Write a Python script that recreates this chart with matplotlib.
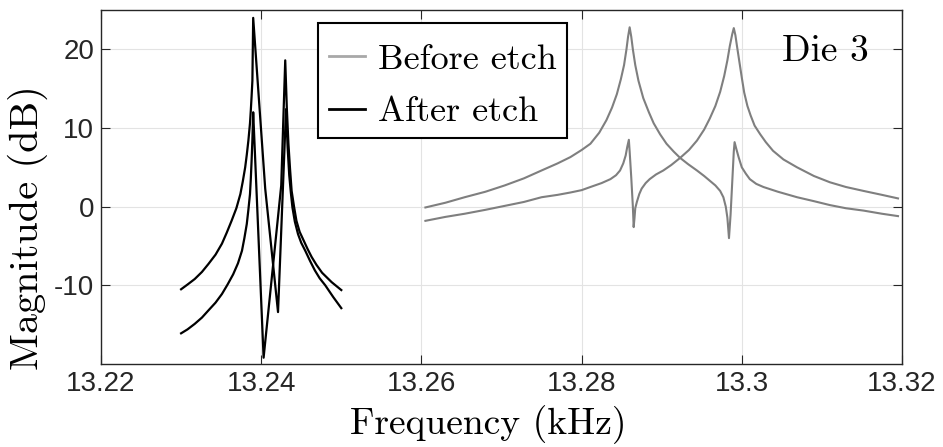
import numpy as np
import matplotlib
matplotlib.use("Agg")
import matplotlib.pyplot as plt
from matplotlib.lines import Line2D
from matplotlib.patches import Rectangle

# --- data (frequency in kHz, magnitude in dB) ---
before_a_f = [13.2605, 13.2630, 13.2654, 13.2680, 13.2704, 13.2728, 13.2750, 13.2770,
              13.2786, 13.2800, 13.2811, 13.2822, 13.2831, 13.2838, 13.2844, 13.2849,
              13.2853, 13.2856, 13.2858, 13.2860, 13.2862, 13.2864, 13.2867, 13.2871,
              13.2877, 13.2884, 13.2890, 13.2898, 13.2906, 13.2915, 13.2923, 13.2933,
              13.2944, 13.2953, 13.2960, 13.2967, 13.2973, 13.2977, 13.2980, 13.2982,
              13.2984, 13.2986, 13.2988, 13.2990, 13.2991, 13.2993, 13.2996, 13.3000,
              13.3005, 13.3010, 13.3018, 13.3027, 13.3045, 13.3069, 13.3090, 13.3110,
              13.3130, 13.3152, 13.3175, 13.3195]
before_a_db = [-0.1, 0.5, 1.2, 1.9, 2.7, 3.6, 4.6, 5.5,
               6.3, 7.2, 8.0, 9.4, 11.0, 12.6, 14.3, 16.2,
               18.0, 20.0, 21.6, 22.8, 21.6, 20.0, 18.0, 16.0,
               13.8, 12.0, 10.6, 9.2, 8.0, 7.0, 6.2, 5.4,
               4.6, 3.9, 3.3, 2.7, 2.0, 1.2, 0.0, -1.4,
               -4.0, -1.0, 3.0, 7.0, 8.2, 7.4, 6.3, 5.0,
               4.2, 3.5, 2.9, 2.5, 1.9, 1.2, 0.7, 0.2,
               -0.2, -0.5, -0.9, -1.2]

before_b_f = [13.2605, 13.2630, 13.2654, 13.2680, 13.2704, 13.2728, 13.2750, 13.2770,
              13.2786, 13.2800, 13.2811, 13.2825, 13.2836, 13.2843, 13.2848, 13.2852,
              13.2855, 13.2857, 13.2859, 13.2860, 13.2862, 13.2864, 13.2865, 13.2866,
              13.2867, 13.2869, 13.2872, 13.2875, 13.2880, 13.2885, 13.2893, 13.2902,
              13.2912, 13.2923, 13.2934, 13.2944, 13.2953, 13.2960, 13.2967, 13.2973,
              13.2978, 13.2982, 13.2985, 13.2988, 13.2990, 13.2992, 13.2994, 13.2997,
              13.3000, 13.3003, 13.3007, 13.3011, 13.3016, 13.3023, 13.3030, 13.3039,
              13.3052, 13.3069, 13.3090, 13.3110, 13.3130, 13.3152, 13.3175, 13.3195]
before_b_db = [-1.8, -1.3, -0.9, -0.4, 0.1, 0.6, 1.2, 1.5,
               1.8, 2.1, 2.5, 3.0, 3.5, 4.0, 4.6, 5.5,
               6.5, 7.6, 8.5, 7.0, 3.7, 0.0, -2.6, -1.5,
               -0.2, 0.6, 1.6, 2.3, 3.0, 3.5, 4.1, 4.6,
               5.3, 6.2, 7.2, 8.4, 9.8, 11.2, 12.8, 14.6,
               16.6, 18.6, 20.4, 21.9, 22.7, 21.8, 20.4, 18.4,
               16.4, 14.5, 12.8, 11.6, 10.3, 9.2, 8.2, 7.1,
               6.0, 5.0, 3.9, 3.1, 2.5, 2.0, 1.5, 1.05]

after_a_f = [13.2300, 13.2308, 13.2317, 13.2326, 13.2334, 13.2343, 13.2351, 13.2357,
             13.2363, 13.2369, 13.2374, 13.2377, 13.2380, 13.2382, 13.2384, 13.2386,
             13.2387, 13.2388, 13.2389, 13.2390, 13.2405, 13.2421, 13.2431, 13.2433,
             13.2435, 13.2437, 13.2439, 13.2442, 13.2446, 13.2450, 13.2455, 13.2461,
             13.2467, 13.2473, 13.2480, 13.2490, 13.2500]
after_a_db = [-10.5, -9.9, -9.2, -8.3, -7.3, -6.1, -4.7, -3.3,
              -1.8, -0.2, 1.6, 3.2, 5.0, 6.6, 8.4, 10.6,
              12.2, 14.0, 16.0, 24.0, 2.3, -13.4, 12.4, 7.5,
              4.0, 1.8, -0.1, -1.9, -3.5, -4.6, -5.6, -6.9,
              -8.1, -9.1, -10.0, -11.5, -12.9]

after_b_f = [13.2300, 13.2308, 13.2317, 13.2326, 13.2334, 13.2343, 13.2351, 13.2358,
             13.2365, 13.2371, 13.2376, 13.2379, 13.2382, 13.2384, 13.2386, 13.2387,
             13.2388, 13.2389, 13.2390, 13.2403, 13.2425, 13.2430, 13.2432, 13.2434,
             13.2436, 13.2438, 13.2441, 13.2444, 13.2448, 13.2453, 13.2458, 13.2463,
             13.2469, 13.2476, 13.2482, 13.2488, 13.2494, 13.2500]
after_b_db = [-16.1, -15.6, -14.9, -14.1, -13.2, -12.2, -11.1, -9.9,
              -8.6, -7.2, -5.6, -4.0, -2.2, -0.4, 1.6, 3.5,
              5.8, 8.5, 12.0, -19.2, 2.7, 18.6, 12.5, 8.0,
              4.8, 2.0, 0.0, -1.8, -3.2, -4.3, -5.4, -6.4,
              -7.4, -8.4, -9.0, -9.6, -10.1, -10.6]

x_ticks = [13.22, 13.24, 13.26, 13.28, 13.30, 13.32]
x_tick_labels = ['13.22', '13.24', '13.26', '13.28', '13.3', '13.32']
y_ticks = [-10, 0, 10, 20]
y_tick_labels = ['-10', '0', '10', '20']

legend_labels = ['Before etch', 'After etch']
note_text = 'Die 3'

# --- style ---
GREY = '#7f7f7f'
GREY_LEG = '#a8a8a8'
BLACK = '#000000'
AX_COL = '#262626'
SERIF = 'cmr10'
W, H = 943, 447

plt.rcParams['axes.unicode_minus'] = False

fig = plt.figure(figsize=(W / 100, H / 100), dpi=100)
ax = fig.add_axes([101 / W, 83 / H, 801 / W, 354 / H])

ax.plot(before_a_f, before_a_db, color=GREY, lw=1.5)
ax.plot(before_b_f, before_b_db, color=GREY, lw=1.5)
ax.plot(after_a_f, after_a_db, color=BLACK, lw=1.6)
ax.plot(after_b_f, after_b_db, color=BLACK, lw=1.6)

ax.set_xlim(13.22, 13.32)
ax.set_ylim(-20, 25)
ax.set_xticks(x_ticks)
ax.set_xticklabels(x_tick_labels)
ax.set_yticks(y_ticks)
ax.set_yticklabels(y_tick_labels)
for lab in ax.get_xticklabels() + ax.get_yticklabels():
    lab.set_fontfamily('Liberation Sans')
    lab.set_fontsize(20)
    lab.set_color(AX_COL)

ax.tick_params(direction='in', length=6.5, width=0.8, color=AX_COL,
               top=True, right=True, pad=5)
ax.grid(True, color='#e3e3e3', lw=0.8)
ax.set_axisbelow(True)
for sp in ax.spines.values():
    sp.set_color(AX_COL)
    sp.set_linewidth(1.0)

# axis labels (LaTeX look)
ax.text(-0.091, 0.385, 'Magnitude (dB)', transform=ax.transAxes, rotation=90,
        ha='center', va='center', fontfamily=SERIF, fontsize=29)
ax.text(0.484, -0.172, 'Frequency (kHz)', transform=ax.transAxes,
        ha='center', va='center', fontfamily=SERIF, fontsize=27)

ax.text(0.904, 0.884, note_text, transform=ax.transAxes,
        ha='center', va='center', fontfamily=SERIF, fontsize=27)

# legend: entries without frame, box drawn separately (pixel placement)
def px_to_ax(x, y):
    return (x - 101) / 801, (364 - y) / 354

handles = [Line2D([], [], color=GREY_LEG, lw=2), Line2D([], [], color=BLACK, lw=2)]
leg = ax.legend(handles, legend_labels, loc='upper left',
                bbox_to_anchor=px_to_ax(318, 33),
                prop={'family': SERIF, 'size': 26}, frameon=False,
                handlelength=1.0, handletextpad=0.35, borderpad=0.3,
                labelspacing=0.55, borderaxespad=0)
bx0, by0 = px_to_ax(318, 138)
bx1, by1 = px_to_ax(567, 23)
ax.add_patch(Rectangle((bx0, by0), bx1 - bx0, by1 - by0, transform=ax.transAxes,
                       facecolor='white', edgecolor='black', lw=1.5, zorder=4))
leg.set_zorder(5)

fig.savefig('out.png', dpi=100)
